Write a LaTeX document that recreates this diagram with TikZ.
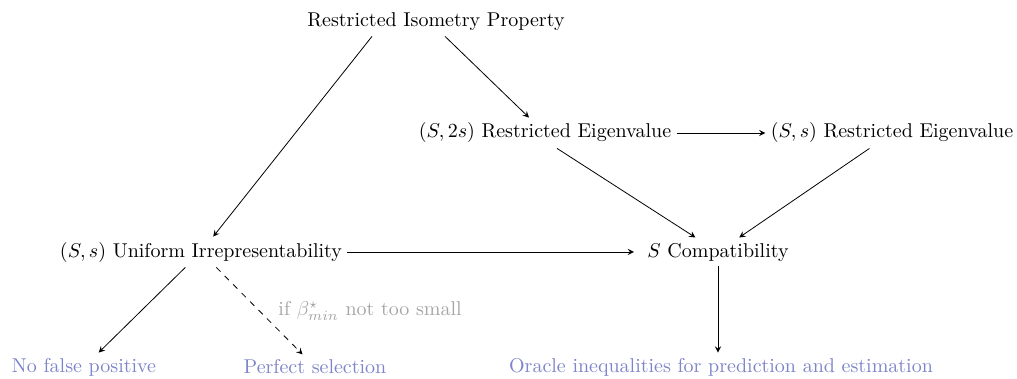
\documentclass[tikz,border=0pt]{standalone}
\usetikzlibrary{arrows.meta,calc}
\definecolor{resblue}{RGB}{125,132,200}
\definecolor{condgray}{RGB}{165,165,165}
\begin{document}
\begin{tikzpicture}[x=0.5pt,y=-0.5pt,
  prop/.style={inner sep=2.5pt},
  res/.style={inner sep=2.5pt,text=resblue},
  imp/.style={-stealth,thin},
  cond/.style={-stealth,thin,dashed}]
\useasboundingbox (0,0) rectangle (1017,379);
\node[prop] (rip) at (436,22) {Restricted Isometry Property};
\node[prop] (re2) at (545,133) {$(S,2s)$ Restricted Eigenvalue};
\node[prop] (re1) at (892,133) {$(S,s)$ Restricted Eigenvalue};
\node[prop] (ui) at (201,252) {$(S,s)$ Uniform Irrepresentability};
\node[prop] (sc) at (718,252) {$S$ Compatibility};
\node[res] (nfp) at (84,367) {No false positive};
\node[res] (ps) at (315,367) {Perfect selection};
\node[res] (oi) at (721,367) {Oracle inequalities for prediction and estimation};
\draw[imp] ($(rip.south)+(9,0)$) -- (re2);
\draw[imp] ($(rip.south)+(-64,0)$) -- (ui);
\draw[imp] (re2) -- (re1);
\draw[imp] ($(re2.south)+(12,0)$) -- (sc);
\draw[imp] (re1) -- (sc);
\draw[imp,shorten >=4pt] (ui) -- (sc);
\draw[imp] (ui) -- (nfp);
\draw[cond] (ui) -- node[pos=0.5,right=6pt,text=condgray] {if $\beta^\star_{min}$ not too small} (ps);
\draw[imp] (sc.south) -- (sc.south |- oi.north);
\end{tikzpicture}
\end{document}
